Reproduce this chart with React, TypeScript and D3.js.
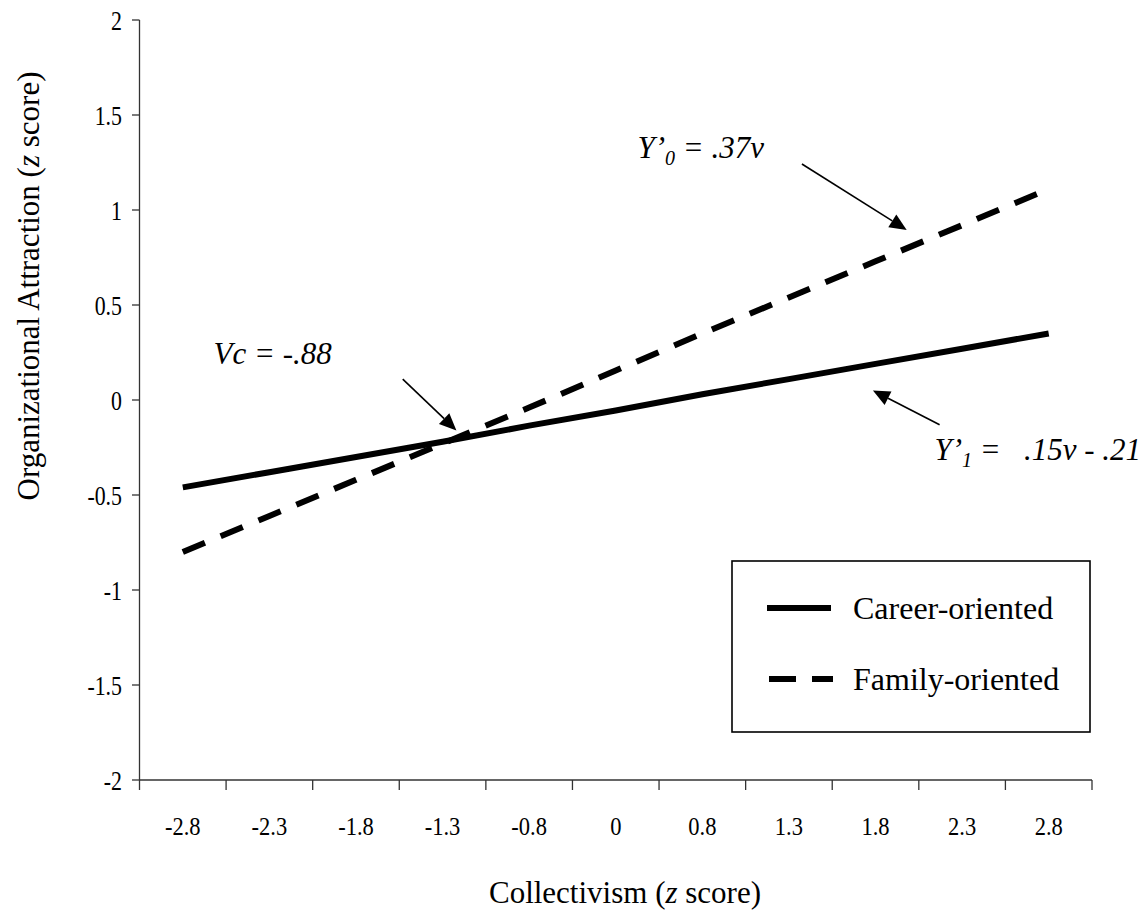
import React from 'react';
import * as d3 from 'd3';

const categories = ['-2.8', '-2.3', '-1.8', '-1.3', '-0.8', '0', '0.8', '1.3', '1.8', '2.3', '2.8'];
const careerValues = [-0.46, -0.38, -0.3, -0.22, -0.135, -0.055, 0.03, 0.11, 0.19, 0.27, 0.35];
const familyValues = [-0.8, -0.61, -0.42, -0.23, -0.04, 0.155, 0.35, 0.54, 0.73, 0.92, 1.11];
const yTicks = [-2, -1.5, -1, -0.5, 0, 0.5, 1, 1.5, 2];
const seriesNames = ['Career-oriented', 'Family-oriented'];

// annotation arrows in data space: [category index, value]
const arrows = [
  { from: [7.15, 1.242], to: [8.36, 0.895] },
  { from: [8.74, -0.13], to: [7.97, 0.05] },
  { from: [2.54, 0.11], to: [3.16, -0.16] },
];

const W = 1147;
const H = 913;
const FONT = '"Liberation Serif", "Times New Roman", serif';

export default function App() {
  const x = d3.scaleBand<string>().domain(categories).range([139.5, 1092]).padding(0);
  const bw = x.bandwidth();
  const cx = (i: number) => (x(categories[0]) as number) + bw * (i + 0.5);
  const y = d3.scaleLinear().domain([-2, 2]).range([780, 20]);

  const line = d3
    .line<number>()
    .x((_, i) => cx(i))
    .y((v) => y(v));

  const boundaries = d3.range(categories.length + 1).map((i) => 139.5 + bw * i);

  const arrowEls = arrows.map((a, k) => {
    const x1 = cx(a.from[0]);
    const y1 = y(a.from[1]);
    const x2 = cx(a.to[0]);
    const y2 = y(a.to[1]);
    const ang = Math.atan2(y2 - y1, x2 - x1);
    const L = 17;
    const Wd = 7.5;
    const bx = x2 - L * Math.cos(ang);
    const by = y2 - L * Math.sin(ang);
    const p1 = [bx + Wd * Math.sin(ang), by - Wd * Math.cos(ang)];
    const p2 = [bx - Wd * Math.sin(ang), by + Wd * Math.cos(ang)];
    return (
      <g key={k}>
        <line x1={x1} y1={y1} x2={bx} y2={by} stroke="#000" strokeWidth={1.6} />
        <polygon points={`${x2},${y2} ${p1[0]},${p1[1]} ${p2[0]},${p2[1]}`} fill="#000" />
      </g>
    );
  });

  const ySx = 0.78;
  const xSx = 0.9;

  return (
    <svg
      width={W}
      height={H}
      style={{ position: 'absolute', left: 0, top: 0, background: '#fff' }}
      fontFamily={FONT}
    >
      <rect x={0} y={0} width={W} height={H} fill="#fff" />
      {/* Y axis */}
      <line x1={139.5} y1={20} x2={139.5} y2={780} stroke="#333" strokeWidth={1.3} />
      {yTicks.map((t) => (
        <g key={t}>
          <line x1={132} y1={y(t)} x2={139.5} y2={y(t)} stroke="#333" strokeWidth={1.3} />
          <text
            x={0}
            y={0}
            dy="0.35em"
            textAnchor="end"
            fontSize={28}
            transform={`translate(122,${y(t)}) scale(${ySx},1)`}
          >
            {String(t)}
          </text>
        </g>
      ))}
      {/* X axis */}
      <line x1={139.5} y1={780} x2={1092} y2={780} stroke="#333" strokeWidth={1.3} />
      {boundaries.map((b, i) => (
        <line key={i} x1={b} y1={780} x2={b} y2={790} stroke="#333" strokeWidth={1.3} />
      ))}
      {categories.map((c, i) => (
        <text
          key={c}
          x={0}
          y={0}
          textAnchor="middle"
          fontSize={25}
          transform={`translate(${cx(i)},835) scale(${xSx},1)`}
        >
          {c}
        </text>
      ))}
      {/* Axis titles */}
      <text x={625} y={903} textAnchor="middle" fontSize={31}>
        Collectivism (<tspan fontStyle="italic">z</tspan> score)
      </text>
      <text transform="translate(39,286) rotate(-90)" textAnchor="middle" fontSize={31}>
        Organizational Attraction (<tspan fontStyle="italic">z</tspan> score)
      </text>
      {/* Series */}
      <path d={line(careerValues) || ''} fill="none" stroke="#000" strokeWidth={6} />
      <path d={line(familyValues) || ''} fill="none" stroke="#000" strokeWidth={6} strokeDasharray="24 17" />
      {/* Annotations */}
      {arrowEls}
      <text x={cx(5.25)} y={y(1.274)} fontSize={31} fontStyle="italic">
        Y’<tspan fontSize={20} dy={7}>0</tspan>
        <tspan dy={-7}> = .37v</tspan>
      </text>
      <text x={cx(1.72)} y={y(0.19)} fontSize={31} fontStyle="italic" textAnchor="end">
        Vc = -.88
      </text>
      <text x={cx(8.68)} y={y(-0.316)} fontSize={31} fontStyle="italic" xmlSpace="preserve">
        Y’<tspan fontSize={20} dy={7}>1</tspan>
        <tspan dy={-7} style={{ whiteSpace: 'pre' }}> =   .15v - .21</tspan>
      </text>
      {/* Legend */}
      <rect x={732} y={561} width={358} height={171} fill="none" stroke="#000" strokeWidth={1.6} />
      <line x1={767} y1={608} x2={831} y2={608} stroke="#000" strokeWidth={6} />
      <line x1={769} y1={679} x2={833} y2={679} stroke="#000" strokeWidth={6} strokeDasharray="27 16" />
      <text x={853} y={619} fontSize={32}>
        {seriesNames[0]}
      </text>
      <text x={853} y={690} fontSize={32}>
        {seriesNames[1]}
      </text>
    </svg>
  );
}
